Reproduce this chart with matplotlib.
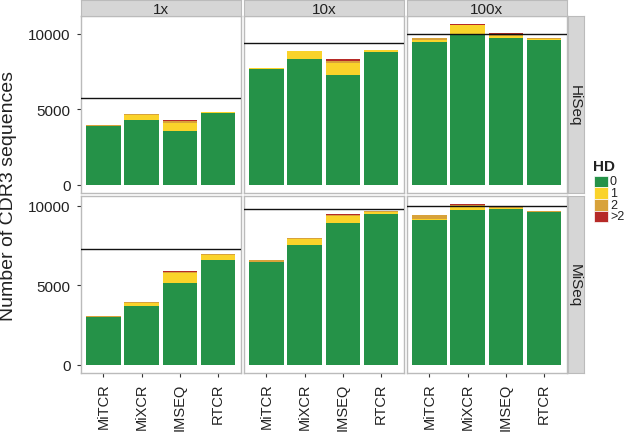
import matplotlib
matplotlib.use("Agg")
import matplotlib.pyplot as plt
import numpy as np
from matplotlib.patches import Rectangle

plt.rcParams['font.family'] = ['Liberation Sans', 'DejaVu Sans']

tools = ['MiTCR', 'MiXCR', 'IMSEQ', 'RTCR']
depths = ['1x', '10x', '100x']
platforms = ['HiSeq', 'MiSeq']
hd_labels = ['0', '1', '2', '>2']
hd_colors = ['#259248', '#FAD32A', '#D8A23A', '#B62A27']

# HiSeq values per depth, tools order
hiseq_hd0 = {'1x': [3900, 4320, 3550, 4760], '10x': [7680, 8340, 7280, 8800], '100x': [9480, 9915, 9690, 9610]}
hiseq_hd1 = {'1x': [30, 330, 575, 70], '10x': [40, 500, 790, 100], '100x': [80, 635, 150, 60]}
hiseq_hd2 = {'1x': [20, 40, 120, 20], '10x': [40, 40, 130, 50], '100x': [150, 40, 170, 20]}
hiseq_hd3 = {'1x': [0, 0, 30, 0], '10x': [0, 0, 130, 0], '100x': [10, 50, 70, 0]}
hiseq_ref = [5750, 9390, 10000]

miseq_hd0 = {'1x': [2980, 3730, 5150, 6600], '10x': [6440, 7560, 8920, 9500], '100x': [9125, 9750, 9810, 9580]}
miseq_hd1 = {'1x': [40, 190, 600, 330], '10x': [40, 360, 400, 100], '100x': [30, 190, 30, 50]}
miseq_hd2 = {'1x': [40, 40, 100, 60], '10x': [100, 40, 120, 50], '100x': [230, 80, 100, 30]}
miseq_hd3 = {'1x': [0, 0, 25, 0], '10x': [0, 0, 20, 0], '100x': [10, 80, 0, 0]}
miseq_ref = [7250, 9770, 10000]

data = {
    'HiSeq': ([hiseq_hd0, hiseq_hd1, hiseq_hd2, hiseq_hd3], hiseq_ref),
    'MiSeq': ([miseq_hd0, miseq_hd1, miseq_hd2, miseq_hd3], miseq_ref),
}

W, H = 627, 435
fig = plt.figure(figsize=(W / 100, H / 100), dpi=100)

def fx(px):
    return px / W

def fy(py):
    return 1 - py / H

col_left = [80.5, 243.5, 406.5]
pw = 160.5
row_top = [17, 197]
ph = 177
border_col = '#BBBBBB'
strip_fill = '#D6D6D6'
text_col = '#222222'

for r, plat in enumerate(platforms):
    series, refs = data[plat]
    totals = []
    for d in depths:
        totals.append(np.sum([s[d] for s in series], axis=0))
    ymax = max(np.max(totals), max(refs))
    ylim = (-0.05 * ymax, 1.05 * ymax)
    for c, d in enumerate(depths):
        ax = fig.add_axes([fx(col_left[c]), fy(row_top[r] + ph), fx(pw), ph / H])
        x = np.arange(len(tools))
        bottom = np.zeros(len(tools))
        for k, s in enumerate(series):
            vals = np.array(s[d], dtype=float)
            ax.bar(x, vals, width=0.9, bottom=bottom, color=hd_colors[k], linewidth=0, zorder=2)
            bottom += vals
        ax.axhline(refs[c], color='#111111', lw=1.0, zorder=3)
        ax.set_xlim(-0.6, len(tools) - 0.4)
        ax.set_ylim(*ylim)
        ax.set_yticks([0, 5000, 10000])
        for sp in ax.spines.values():
            sp.set_color(border_col)
            sp.set_linewidth(1.0)
        ax.tick_params(axis='both', colors='#333333', labelcolor=text_col, length=3, width=0.8, labelsize=11, pad=4)
        ax.set_xticks(x)
        if r == 1:
            ax.set_xticklabels(tools, rotation=90)
            ax.tick_params(axis='x', pad=4, labelsize=10.5)
        else:
            ax.set_xticklabels([])
            ax.tick_params(axis='x', length=0)
        if c != 0:
            ax.set_yticklabels([])
            ax.tick_params(axis='y', length=0)
        # top strips
        if r == 0:
            sax = fig.add_axes([fx(col_left[c]), fy(16.5), fx(pw), 15.5 / H])
            sax.set_facecolor(strip_fill)
            sax.set_xticks([]); sax.set_yticks([])
            for sp in sax.spines.values():
                sp.set_color(border_col)
            sax.text(0.5, 0.45, d, ha='center', va='center', fontsize=11, color=text_col, transform=sax.transAxes)
    # right strip
    rax = fig.add_axes([fx(567.5), fy(row_top[r] + ph), fx(16.5), ph / H])
    rax.set_facecolor(strip_fill)
    rax.set_xticks([]); rax.set_yticks([])
    for sp in rax.spines.values():
        sp.set_color(border_col)
    rax.text(0.45, 0.5, plat, ha='center', va='center', rotation=-90, fontsize=11, color=text_col, transform=rax.transAxes)

# y label
fig.text(fx(9), fy(196), 'Number of CDR3 sequences', rotation=90, ha='center', va='center', fontsize=14, color=text_col)

# legend
fig.text(fx(593), fy(167), 'HD', ha='left', va='center', fontsize=11, fontweight='bold', color=text_col)
key_top = 176.5
kh = 11.7
for i, (lab, col) in enumerate(zip(hd_labels, hd_colors)):
    y0 = key_top + i * kh
    fig.patches.append(Rectangle((fx(594), fy(y0 + kh)), fx(14), kh / H, transform=fig.transFigure,
                                 facecolor=col, edgecolor='white', linewidth=0.5))
    fig.text(fx(610), fy(y0 + kh / 2), lab, ha='left', va='center', fontsize=9, color=text_col)

fig.savefig('out.png', dpi=100, facecolor='white')
